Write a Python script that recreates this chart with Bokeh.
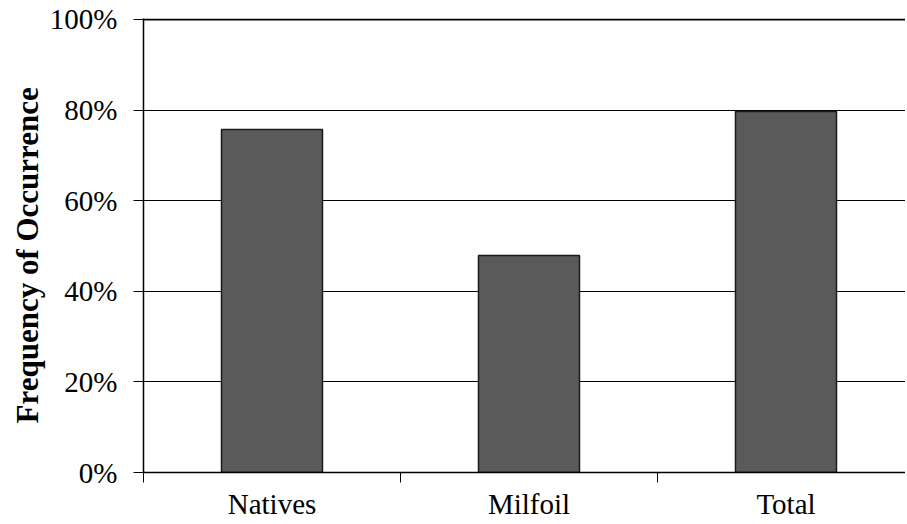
from bokeh.plotting import figure
from bokeh.models import Range1d, FixedTicker, ColumnDataSource, Span, Title
from bokeh.embed import file_html
from bokeh.resources import INLINE

categories = ["Natives", "Milfoil", "Total"]
frequency = [0.757, 0.479, 0.797]
y_ticks = [0.0, 0.2, 0.4, 0.6, 0.8, 1.0]
y_tick_labels = ["0%", "20%", "40%", "60%", "80%", "100%"]
y_title = "Frequency of Occurrence"

n = len(categories)
centers = [i + 0.5 for i in range(n)]
boundaries = [float(i) for i in range(n + 1)]

src = ColumnDataSource(dict(x=centers, top=frequency, cat=categories))

p = figure(width=905, height=522, output_backend="svg", toolbar_location=None,
           x_range=Range1d(0, 2.965), y_range=Range1d(0, 1.0022))
p.min_border_left = 143
p.min_border_top = 18
p.min_border_right = 0
p.min_border_bottom = 50
p.outline_line_color = None
p.background_fill_color = "white"
p.border_fill_color = "white"

p.vbar(x="x", top="top", bottom=0, width=0.393, source=src,
       fill_color="#5a5a5a", line_color="#1a1a1a", line_width=1.5)

FONT = "Liberation Serif"

# y axis
p.yaxis.ticker = FixedTicker(ticks=y_ticks)
p.yaxis.major_label_overrides = {t: l for t, l in zip(y_ticks, y_tick_labels)}
p.yaxis.major_label_text_font = FONT
p.yaxis.major_label_text_font_size = "29px"
p.yaxis.major_label_text_color = "black"
p.yaxis.major_label_standoff = 16
p.yaxis.major_tick_out = 10
p.yaxis.major_tick_in = 0
p.yaxis.major_tick_line_color = "black"
p.yaxis.minor_tick_line_color = None
p.yaxis.axis_line_color = "black"
p.yaxis.axis_line_width = 1.5

# y-axis title as a side title (allows shifting along the axis)
p.add_layout(Title(text=y_title, align="left", offset=49, standoff=4,
                   text_font=FONT, text_font_size="31px", text_font_style="bold",
                   text_color="black"), "left")

# x axis
p.xaxis.ticker = FixedTicker(ticks=centers, minor_ticks=boundaries)
p.xaxis.major_label_overrides = {c: l for c, l in zip(centers, categories)}
p.xaxis.major_label_text_font = FONT
p.xaxis.major_label_text_font_size = "29px"
p.xaxis.major_label_text_color = "black"
p.xaxis.major_label_standoff = 5
p.xaxis.major_tick_line_color = None
p.xaxis.major_tick_out = 10
p.xaxis.major_tick_in = 0
p.xaxis.minor_tick_line_color = "black"
p.xaxis.minor_tick_out = 10
p.xaxis.minor_tick_in = 0
p.xaxis.axis_line_color = "black"
p.xaxis.axis_line_width = 1.5

p.xgrid.grid_line_color = None
p.ygrid.grid_line_color = "black"
p.ygrid.grid_line_width = 1.2

p.add_layout(Span(location=y_ticks[-1], dimension="width",
                  line_color="black", line_width=2))

open("out.html", "w").write(file_html(p, INLINE))
